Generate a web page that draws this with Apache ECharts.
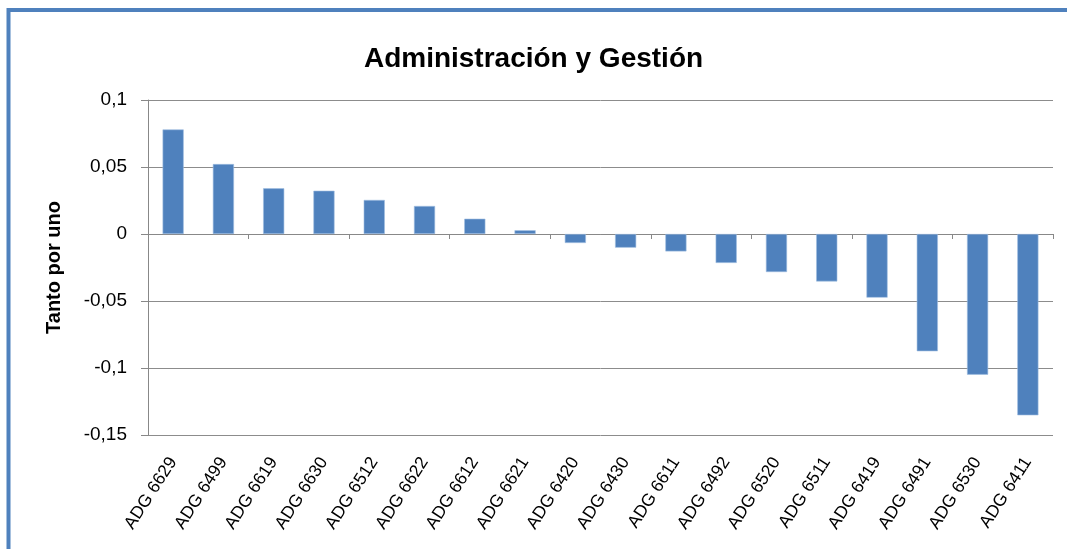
<!DOCTYPE html>
<html>
<head>
<meta charset="utf-8">
<script src="https://cdn.jsdelivr.net/npm/echarts@6/dist/echarts.min.js"></script>
<style>
html,body{margin:0;padding:0;background:#fff;}
#c{width:1067px;height:549px;}
</style>
</head>
<body>
<div id="c"></div>
<script>
const categories = ['ADG 6629','ADG 6499','ADG 6619','ADG 6630','ADG 6512','ADG 6622','ADG 6612','ADG 6621','ADG 6420','ADG 6430','ADG 6611','ADG 6492','ADG 6520','ADG 6511','ADG 6419','ADG 6491','ADG 6530','ADG 6411'];
const values = [0.078,0.0522,0.0341,0.0323,0.0254,0.0209,0.0114,0.0028,-0.0067,-0.0102,-0.013,-0.0216,-0.0284,-0.0354,-0.0475,-0.0875,-0.105,-0.1353];
const titleText = 'Administración y Gestión';
const yName = 'Tanto por uno';

const chart = echarts.init(document.getElementById('c'));
const fontFam = 'Liberation Sans, Arial, sans-serif';
chart.setOption({
  animation: false,
  backgroundColor: '#fff',
  title: {
    text: titleText, left: 'center', top: 40,
    textStyle: {fontFamily: fontFam, fontWeight: 'bold', fontSize: 28, color: '#000'}
  },
  graphic: [{
    type: 'rect', shape: {x: 8.5, y: 10, width: 1200, height: 700},
    style: {fill: 'none', stroke: '#4F81BD', lineWidth: 4}, silent: true, z: 100
  }],
  grid: {left: 148, right: 14, top: 100, bottom: 114},
  xAxis: [{
    type: 'category', data: categories, position: 'bottom',
    axisLine: {onZero: true, lineStyle: {color: '#888', width: 1}},
    axisTick: {show: true, length: 5, lineStyle: {color: '#888'}},
    axisLabel: {show: false}
  }, {
    type: 'category', data: categories, position: 'bottom',
    axisLine: {show: false, onZero: false},
    axisTick: {show: false},
    axisLabel: {rotate: 57, fontFamily: fontFam, fontSize: 17.5, color: '#000', margin: 24, interval: 0}
  }],
  yAxis: {
    type: 'value', min: -0.15, max: 0.1, interval: 0.05,
    name: yName, nameLocation: 'middle', nameGap: 84, nameRotate: 90,
    nameTextStyle: {fontFamily: fontFam, fontWeight: 'bold', fontSize: 20, color: '#000'},
    axisLine: {show: true, lineStyle: {color: '#888'}},
    axisTick: {show: true, length: 7, lineStyle: {color: '#888'}},
    axisLabel: {
      fontFamily: fontFam, fontSize: 19, color: '#000', margin: 21,
      formatter: v => String(Math.round(v * 100) / 100).replace('.', ',')
    },
    splitLine: {show: true, lineStyle: {color: '#8c8c8c', width: 1}}
  },
  series: [{
    type: 'bar', data: values, xAxisIndex: 0, barWidth: '42%',
    itemStyle: {color: '#4F81BD', borderColor: '#9fbde0', borderWidth: 0.6}
  }]
});
</script>
</body>
</html>
